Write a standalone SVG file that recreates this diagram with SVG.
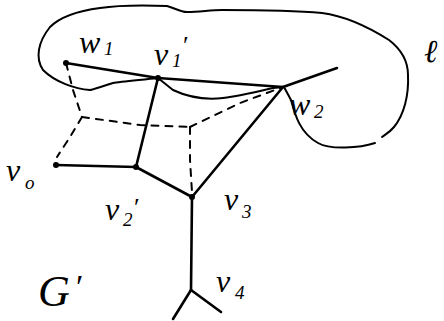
<svg xmlns="http://www.w3.org/2000/svg" width="444" height="321" viewBox="0 0 444 321">
<style>
.e{stroke:#000;stroke-width:2.6;fill:none;stroke-linecap:round;stroke-linejoin:round}
.c{stroke:#000;stroke-width:2;fill:none;stroke-linecap:round;stroke-linejoin:round}
.d{stroke:#000;stroke-width:2;fill:none;stroke-dasharray:7,7;stroke-linecap:round}
.t{font-family:"Liberation Serif",serif;font-style:italic;font-size:32px;fill:#000}
.s{font-family:"Liberation Serif",serif;font-style:italic;font-size:19px;fill:#000}
.p{font-family:"Liberation Serif",serif;font-size:26px;fill:#000}
.dot{fill:#000}
</style>
<rect width="444" height="321" fill="#fff"/>
<g id="curve-l">
<path class="c" d="M375,143 C360,148 330,150 318,143 C300,133 295,115 291,100 L284,87 L273,88 C260,91 240,96 223,98 C205,100 190,98 173,90 L158,78 C140,80 120,82 113,83 C100,87 92,90 90,90 C75,89 55,82 43,70 C35,58 38,42 50,27 C62,15 85,10 100,8 C120,5 140,5 167,6 C175,8 180,12 187,12 C200,12 210,10 222,10 C255,10 290,10 322,13 C345,16 370,28 389,40 C402,50 408,62 408,75 C409,95 404,115 394,127 C390,132 386,134 382,137"/>
</g>
<g id="connectors">
<path class="e" d="M66,63 L158,78"/>
<path class="e" d="M158,78 L283,87 L337,68"/>
<path class="e" d="M158,78 L136,167"/>
<path class="e" d="M56,165 L136,167"/>
<path class="e" d="M136,167 L192,197"/>
<path class="e" d="M192,197 L283,87"/>
<path class="e" d="M192,197 L191,290"/>
<path class="e" d="M191,290 L173,319"/>
<path class="e" d="M191,290 L221,312"/>
<path class="d" d="M66,63 L73,90 L82,117"/>
<path class="d" d="M82,117 L70,137 L57,157"/>
<path class="d" d="M82,117 L140,125 L190,127"/>
<path class="d" d="M190,127 L190,160 L192,192"/>
<path class="d" d="M190,127 L240,103 L283,87"/>
</g>
<g id="node-w1"><circle class="dot" cx="66" cy="63" r="3"/><text class="t" x="79" y="53">w</text><text class="s" x="104" y="55">1</text></g>
<g id="node-v1p"><circle class="dot" cx="158" cy="78" r="3"/><text class="t" x="154" y="65">v</text><text class="s" x="172" y="67">1</text><text class="p" x="183" y="54">′</text></g>
<g id="node-w2"><text class="t" x="289" y="115">w</text><text class="s" x="314" y="118">2</text></g>
<g id="node-l"><text class="t" x="424" y="62">ℓ</text></g>
<g id="node-v0"><circle class="dot" cx="56" cy="165" r="3"/><text class="t" x="6" y="181">v</text><text class="s" x="25" y="189">o</text></g>
<g id="node-v2p"><circle class="dot" cx="136" cy="167" r="3"/><text class="t" x="105" y="220">v</text><text class="s" x="123" y="226">2</text><text class="p" x="134" y="216">′</text></g>
<g id="node-v3"><circle class="dot" cx="192" cy="197" r="3"/><text class="t" x="224" y="210">v</text><text class="s" x="242" y="218">3</text></g>
<g id="node-v4"><text class="t" x="216" y="292">v</text><text class="s" x="235" y="299">4</text></g>
<g id="label-G"><text class="t" x="38" y="306" style="font-size:44px">G</text><text class="p" x="76" y="298" style="font-size:34px">′</text></g>
</svg>
